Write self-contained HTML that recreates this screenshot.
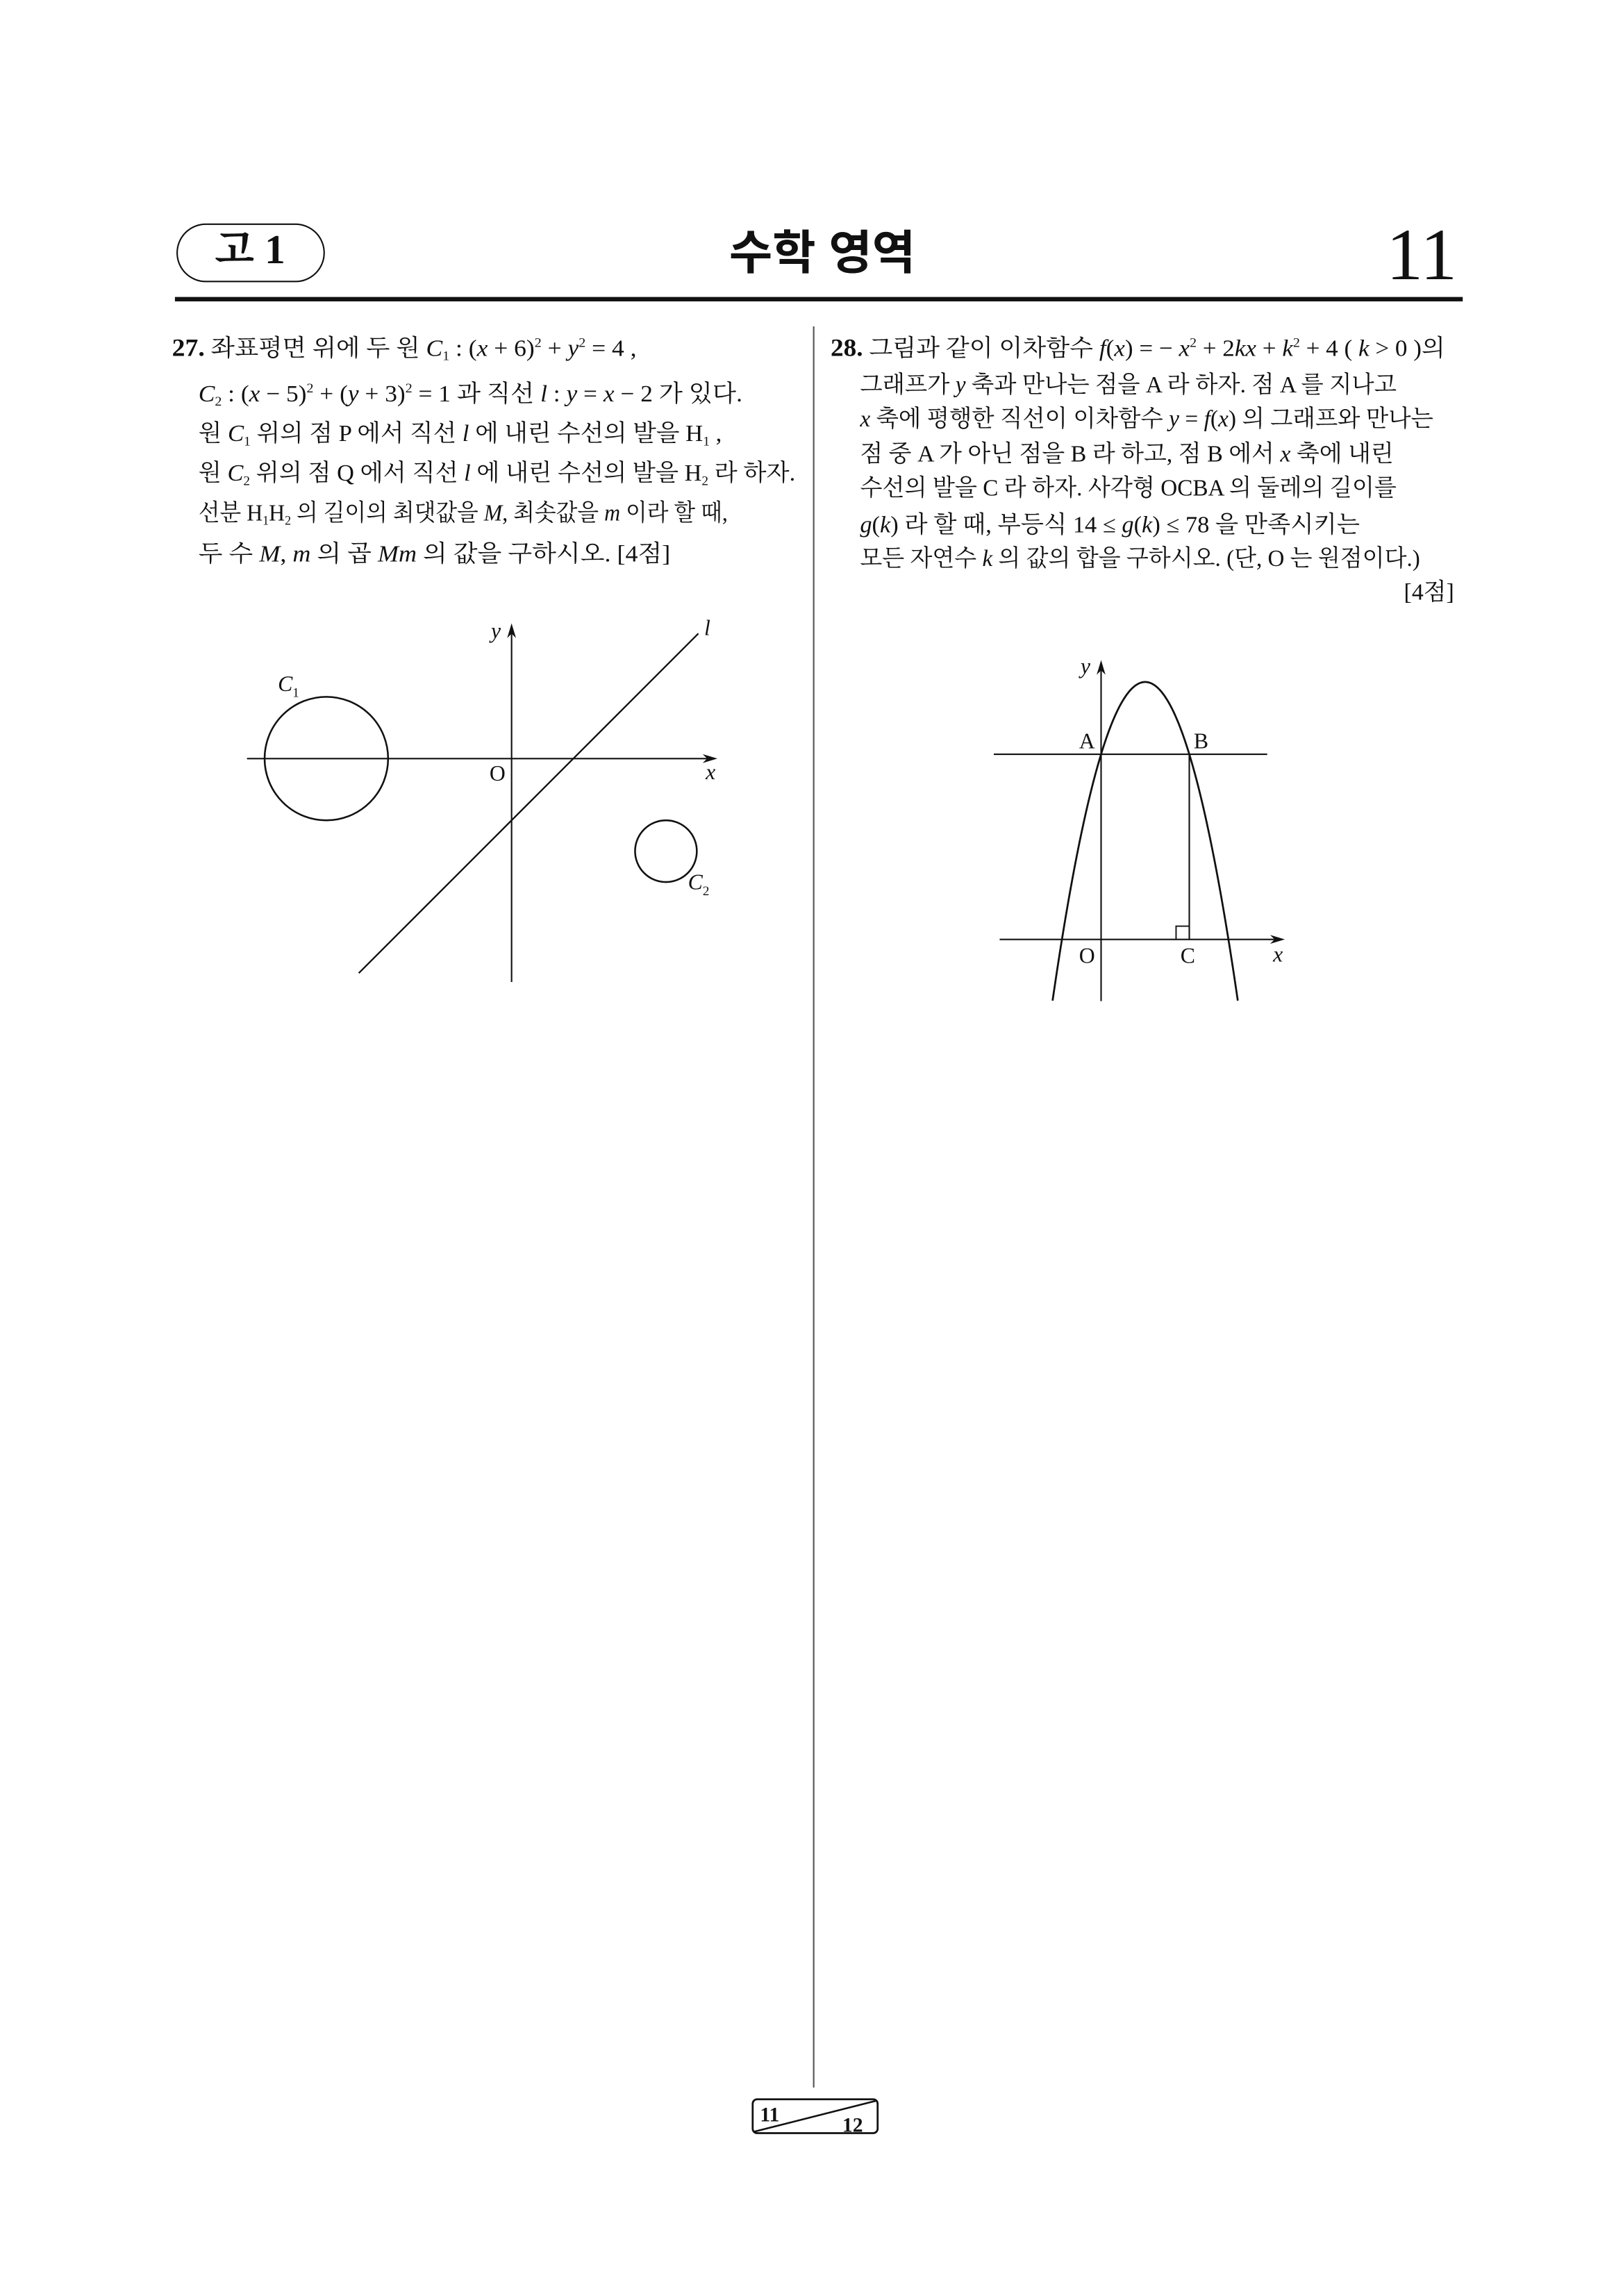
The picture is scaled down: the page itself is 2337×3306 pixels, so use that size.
<!DOCTYPE html>
<html><head><meta charset="utf-8">
<style>
html,body{margin:0;padding:0;background:#fff;}
body{width:2337px;height:3306px;overflow:hidden;position:relative;}
#pg{position:absolute;left:0;top:0;width:1104px;height:1562px;transform:scale(2.1168);transform-origin:0 0;}
.t{position:absolute;white-space:nowrap;font-family:"Liberation Serif","Noto Serif CJK SC",serif;font-size:16px;color:#111;transform-origin:0 50%;}
.t i{font-style:italic;}
sup{font-size:9px;vertical-align:6px;}
sub{font-size:9px;vertical-align:-3px;}
.n{font-weight:bold;font-size:17px;}
svg text{font-family:"Liberation Serif","Noto Serif CJK SC",serif;}
</style></head><body>
<div id="pg">
  <div style="position:absolute;left:120px;top:152px;width:99px;height:38px;border:1.5px solid #111;border-radius:20px;"></div>
  <div class="t" style="left:146px;top:154px;font-size:28px;font-weight:bold;line-height:34px;">고 1</div>
  <div class="t" style="left:496px;top:152px;font-family:'Liberation Sans','Noto Sans CJK KR',sans-serif;font-size:32px;font-weight:bold;line-height:40px;">수학 영역</div>
  <div class="t" style="left:943px;top:146px;font-size:50px;line-height:54px;">11</div>
  <div style="position:absolute;left:119px;top:202px;width:876px;height:2.5px;background:#111;"></div>
  <div style="position:absolute;left:553px;top:222px;width:1px;height:1198px;background:#555;"></div>

  <!-- Q27 -->
  <div class="t fit" data-w="316" style="left:117px;top:224px;"><span class="n">27.</span> 좌표평면 위에 두 원 <i>C</i><sub>1</sub> : (<i>x</i> + 6)<sup>2</sup> + <i>y</i><sup>2</sup> = 4 ,</div>
  <div class="t fit" data-w="370" style="left:135px;top:255px;"><i>C</i><sub>2</sub> : (<i>x</i> − 5)<sup>2</sup> + (<i>y</i> + 3)<sup>2</sup> = 1 과 직선 <i>l</i> : <i>y</i> = <i>x</i> − 2 가 있다.</div>
  <div class="t fit" data-w="356" style="left:135px;top:282px;">원 <i>C</i><sub>1</sub> 위의 점 P 에서 직선 <i>l</i> 에 내린 수선의 발을 H<sub>1</sub> ,</div>
  <div class="t fit" data-w="406" style="left:135px;top:309px;">원 <i>C</i><sub>2</sub> 위의 점 Q 에서 직선 <i>l</i> 에 내린 수선의 발을 H<sub>2</sub> 라 하자.</div>
  <div class="t fit" data-w="360" style="left:135px;top:336px;">선분 H<sub>1</sub>H<sub>2</sub> 의 길이의 최댓값을 <i>M</i>, 최솟값을 <i>m</i> 이라 할 때,</div>
  <div class="t fit" data-w="321" style="left:135px;top:364px;">두 수 <i>M</i>, <i>m</i> 의 곱 <i>Mm</i> 의 값을 구하시오. [4점]</div>

  <!-- Q28 -->
  <div class="t fit" data-w="418" style="left:565px;top:224px;"><span class="n">28.</span> 그림과 같이 이차함수 <i>f</i>(<i>x</i>) = − <i>x</i><sup>2</sup> + 2<i>kx</i> + <i>k</i><sup>2</sup> + 4 ( <i>k</i> &gt; 0 )의</div>
  <div class="t fit" data-w="365" style="left:585px;top:249px;">그래프가 <i>y</i> 축과 만나는 점을 A 라 하자. 점 A 를 지나고</div>
  <div class="t fit" data-w="390" style="left:585px;top:272px;"><i>x</i> 축에 평행한 직선이 이차함수 <i>y</i> = <i>f</i>(<i>x</i>) 의 그래프와 만나는</div>
  <div class="t fit" data-w="363" style="left:585px;top:296px;">점 중 A 가 아닌 점을 B 라 하고, 점 B 에서 <i>x</i> 축에 내린</div>
  <div class="t fit" data-w="365" style="left:585px;top:319px;">수선의 발을 C 라 하자. 사각형 OCBA 의 둘레의 길이를</div>
  <div class="t fit" data-w="340" style="left:585px;top:344px;"><i>g</i>(<i>k</i>) 라 할 때, 부등식 14 ≤ <i>g</i>(<i>k</i>) ≤ 78 을 만족시키는</div>
  <div class="t fit" data-w="381" style="left:585px;top:367px;">모든 자연수 <i>k</i> 의 값의 합을 구하시오. (단, O 는 원점이다.)</div>
  <div class="t" style="left:955px;top:390px;">[4점]</div>

  <svg id="fig1" style="position:absolute;left:0;top:0" width="1104" height="1562"></svg>
  <svg id="fig2" style="position:absolute;left:0;top:0" width="1104" height="1562"></svg>

  <svg style="position:absolute;left:510px;top:1426px" width="90" height="28">
    <rect x="2" y="2" width="85" height="23" rx="3" fill="none" stroke="#111" stroke-width="1.3"/>
    <line x1="3" y1="24" x2="86" y2="3" stroke="#111" stroke-width="1.2"/>
    <text x="7" y="17" font-family="Liberation Sans,sans-serif" font-weight="bold" font-size="14" fill="#111">11</text>
    <text x="63" y="24" font-family="Liberation Sans,sans-serif" font-weight="bold" font-size="14" fill="#111">12</text>
  </svg>
</div>
<script>
// ---- Figure 1 data ----
const circleCenters = [[-6, 0], [5, -3]];
const circleRadii = [2, 1];
const circleNames = ["C1", "C2"];
const lineSlope = [1];
const lineIntercept = [-2];
const lineXRange = [-4.95, 6.05];

// ---- Figure 2 data ----
const kValue = [1.6];
const parabolaXRange = [-1.76, 4.96];

document.querySelectorAll('.fit').forEach(el => {
  const w = el.getBoundingClientRect().width / 2.1168;
  const target = parseFloat(el.getAttribute('data-w'));
  el.style.transform = 'scaleX(' + (target / w) + ')';
});

const NS = "http://www.w3.org/2000/svg";
function mk(svg, tag, attrs) {
  const e = document.createElementNS(NS, tag);
  for (const k in attrs) e.setAttribute(k, attrs[k]);
  svg.appendChild(e);
  return e;
}
function lbl(svg, x, y, txt, sub, italic) {
  const t = document.createElementNS(NS, "text");
  t.setAttribute("x", x); t.setAttribute("y", y);
  t.setAttribute("font-size", "15"); t.setAttribute("fill", "#111");
  if (italic) t.setAttribute("font-style", "italic");
  t.textContent = txt;
  if (sub) {
    const s = document.createElementNS(NS, "tspan");
    s.setAttribute("font-size", "9"); s.setAttribute("dy", "4"); s.setAttribute("font-style", "normal");
    s.textContent = sub; t.appendChild(s);
  }
  svg.appendChild(t);
  return t;
}
function arrow(svg, x, y, dir) {
  const p = dir === "up" ? `M${x},${y} L${x-3},${y+10} L${x},${y+7} L${x+3},${y+10}Z`
                         : `M${x},${y} L${x-10},${y-3} L${x-7},${y} L${x-10},${y+3}Z`;
  return mk(svg, "path", {d: p, fill: "#111"});
}

// Figure 1
(function(){
  const svg = document.getElementById("fig1");
  const ox = 348, oy = 516, u = 21;
  const X = v => ox + v * u, Y = v => oy - v * u;
  let e;
  e = mk(svg, "line", {x1: 168, y1: oy, x2: 484, y2: oy, stroke: "#111", "stroke-width": 1});
   
  e = arrow(svg, 488, oy, "right");
   
  e = mk(svg, "line", {x1: ox, y1: 668, x2: ox, y2: 428, stroke: "#111", "stroke-width": 1});
   
  e = arrow(svg, ox, 424, "up");
   
  circleCenters.forEach((c, i) => {
    const el = mk(svg, "circle", {cx: X(c[0]), cy: Y(c[1]), r: circleRadii[i] * u, fill: "none", stroke: "#111", "stroke-width": 1.2});
    
    
  });
  const m = lineSlope[0], b = lineIntercept[0];
  e = mk(svg, "line", {x1: X(lineXRange[0]), y1: Y(m*lineXRange[0]+b), x2: X(lineXRange[1]), y2: Y(m*lineXRange[1]+b), stroke: "#111", "stroke-width": 1.1});
   
  e = lbl(svg, X(circleCenters[0][0]) - 33, Y(circleCenters[0][1]) - 46, "C", "1", true);
   
  e = lbl(svg, X(circleCenters[1][0]) + 15, Y(circleCenters[1][1]) + 26, "C", "2", true);
   
  e = lbl(svg, X(lineXRange[1]) + 4, Y(m*lineXRange[1]+b) + 1, "l", "", true);
   
  e = lbl(svg, ox - 14, 434, "y", "", true);
   
  e = lbl(svg, 480, 530, "x", "", true);
   
  e = lbl(svg, ox - 15, 531, "O", "", false);
   
})();

// Figure 2
(function(){
  const svg = document.getElementById("fig2");
  const ox = 749, oy = 639, sx = 18.75, sy = 19.2;
  const X = v => ox + v * sx, Y = v => oy - v * sy;
  const k = kValue[0];
  const f = x => -x*x + 2*k*x + k*k + 4;
  let e;
  e = mk(svg, "line", {x1: 680, y1: oy, x2: 870, y2: oy, stroke: "#111", "stroke-width": 1});
   
  e = arrow(svg, 874, oy, "right");
   
  e = mk(svg, "line", {x1: ox, y1: 681, x2: ox, y2: 453, stroke: "#111", "stroke-width": 1});
   
  e = arrow(svg, ox, 449, "up");
   
  const yA = f(0);
  e = mk(svg, "line", {x1: 676, y1: Y(yA), x2: 862, y2: Y(yA), stroke: "#111", "stroke-width": 1});
   
  let d = "";
  for (let i = 0; i <= 160; i++) {
    const x = parabolaXRange[0] + (parabolaXRange[1] - parabolaXRange[0]) * i / 160;
    d += (i ? "L" : "M") + X(x).toFixed(2) + "," + Y(f(x)).toFixed(2);
  }
  e = mk(svg, "path", {d: d, fill: "none", stroke: "#111", "stroke-width": 1.3});
   
  const xB = 2 * k;
  e = mk(svg, "line", {x1: X(xB), y1: Y(yA), x2: X(xB), y2: oy, stroke: "#111", "stroke-width": 1});
   
  e = mk(svg, "path", {d: `M${X(xB)-9},${oy} L${X(xB)-9},${oy-9} L${X(xB)},${oy-9}`, fill: "none", stroke: "#111", "stroke-width": 0.9});
   
  e = lbl(svg, ox - 15, Y(yA) - 4, "A", "", false);
   
  e = lbl(svg, X(xB) + 3, Y(yA) - 4, "B", "", false);
   
  e = lbl(svg, ox - 15, oy + 16, "O", "", false);
   
  e = lbl(svg, X(xB) - 6, oy + 16, "C", "", false);
   
  e = lbl(svg, ox - 14, 458, "y", "", true);
   
  e = lbl(svg, 866, 654, "x", "", true);
   
})();
</script>
</body></html>
